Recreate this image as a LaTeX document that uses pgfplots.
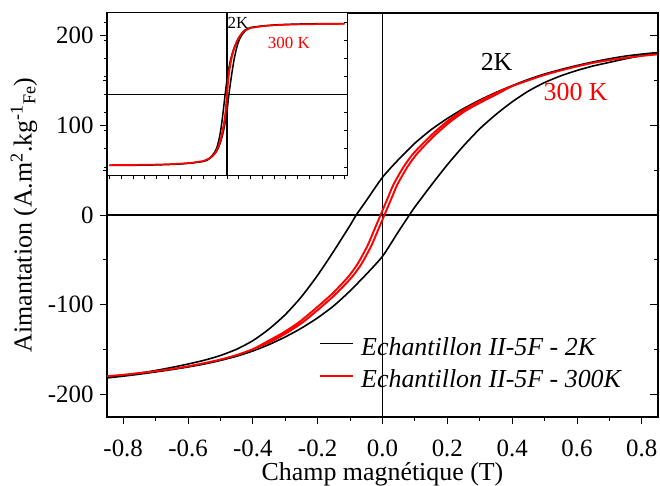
\documentclass[border=0pt]{standalone}
\usepackage{fontspec}
\setmainfont{Liberation Serif}
\usepackage{pgfplots}
\usepackage{pgfplotstable}
\pgfplotsset{compat=1.18}

% 2K loop: descending-field branch, then ascending-field branch
\pgfplotstableread{
x y
0.85 181
0.80 179.2
0.75 177
0.70 174
0.65 170.5
0.60 166.5
0.55 162
0.50 157
0.45 151
0.40 144
0.35 136.5
0.30 128
0.25 118.5
0.20 107.5
0.15 95
0.10 80
0.05 62
0.00 42
-0.05 16
-0.081 0
-0.10 -11.5
-0.15 -40
-0.20 -67
-0.25 -91
-0.30 -111
-0.35 -127
-0.40 -140
-0.45 -149.5
-0.50 -156.5
-0.55 -161.8
-0.60 -166
-0.65 -169.8
-0.70 -173.2
-0.75 -176.2
-0.80 -178.8
-0.85 -181
-0.85 -181.5
-0.80 -179.5
-0.75 -177.3
-0.70 -174.8
-0.65 -172.2
-0.60 -169.3
-0.55 -166
-0.50 -162
-0.45 -157.3
-0.40 -151.5
-0.35 -144.3
-0.30 -135.8
-0.25 -126
-0.20 -114.5
-0.15 -101
-0.10 -84.5
-0.05 -66
0.00 -46
0.05 -18
0.083 0
0.10 9
0.15 33
0.20 56
0.25 77
0.30 96
0.35 112
0.40 126
0.45 138
0.50 147.5
0.55 155
0.60 161
0.65 166
0.70 170
0.75 174
0.80 177.5
0.85 180.5
}\blackloop

% 300K loop
\pgfplotstableread{
x y
0.85 179
0.80 177.2
0.75 175
0.70 172.5
0.65 169.5
0.60 165.5
0.55 161
0.50 156
0.45 150
0.40 143.5
0.345 135
0.295 126
0.245 116
0.195 103
0.145 87
0.094 68
0.064 53
0.034 34
0.014 17
-0.006 0
-0.026 -17
-0.046 -34
-0.076 -54
-0.106 -69
-0.156 -88
-0.206 -104
-0.256 -119
-0.306 -131
-0.356 -141
-0.40 -149.5
-0.45 -156
-0.50 -161
-0.55 -165
-0.60 -168.5
-0.65 -171.5
-0.70 -174
-0.75 -176
-0.80 -178
-0.85 -179.5
-0.85 -179.5
-0.80 -178
-0.75 -176
-0.70 -174
-0.65 -171.5
-0.60 -168.5
-0.55 -165
-0.50 -161
-0.45 -156
-0.40 -149.5
-0.344 -141
-0.294 -131
-0.244 -119
-0.194 -104
-0.144 -88
-0.094 -69
-0.064 -54
-0.034 -34
-0.014 -17
0.006 0
0.026 17
0.046 34
0.076 53
0.106 68
0.156 87
0.206 103
0.256 116
0.306 126
0.355 135
0.40 143.5
0.45 150
0.50 156
0.55 161
0.60 165.5
0.65 169.5
0.70 172.5
0.75 175
0.80 177.2
0.85 179
}\redloop

% high-field tails (inset)
\pgfplotstableread{
x y
0.85 181
1.0 185
1.5 189.5
2.0 192
2.5 193.5
3.0 194.5
4.0 195.5
5.0 196
}\blackpos
\pgfplotstableread{
x y
-0.85 -181
-1.0 -185
-1.5 -189.5
-2.0 -192
-2.5 -193.5
-3.0 -194.5
-4.0 -195.5
-5.0 -196
}\blackneg
\pgfplotstableread{
x y
0.85 179
1.0 183.5
1.5 188.5
2.0 191
2.5 192.5
3.0 193.5
4.0 194.5
5.0 195
}\redpos
\pgfplotstableread{
x y
-0.85 -179.5
-1.0 -183.5
-1.5 -188.5
-2.0 -191
-2.5 -192.5
-3.0 -193.5
-4.0 -194.5
-5.0 -195
}\redneg

\begin{document}
\begin{tikzpicture}[x=1bp,y=1bp]
\useasboundingbox (0,0) rectangle (660,486);
% ---------------- main axis ----------------
\begin{axis}[
  at={(107bp,69bp)}, anchor=south west,
  scale only axis, width=551bp, height=404bp,
  xmin=-0.85, xmax=0.85, ymin=-225, ymax=225,
  xtick={-0.8,-0.6,-0.4,-0.2,0,0.2,0.4,0.6,0.8},
  xticklabels={-0.8,-0.6,-0.4,-0.2,0.0,0.2,0.4,0.6,0.8},
  ytick={-200,-100,0,100,200},
  yticklabels={-200,-100,0,100,200},
  minor x tick num=1, minor y tick num=1,
  xtick pos=bottom, ytick pos=left, tick align=outside,
  major tick length=7bp, minor tick length=4bp,
  tick style={black, line width=0.9bp},
  axis line style={line width=1.2bp},
  ticklabel style={font=\fontsize{25}{25}\selectfont},
  xticklabel style={yshift=-12bp},
  yticklabel style={xshift=-3bp},
  label style={font=\fontsize{26}{26}\selectfont},
  xlabel={Champ magnétique (T)},
  ylabel={Aimantation (A.m\textsuperscript{2}.kg\textsuperscript{-1}\textsubscript{Fe})},
  xlabel style={at={(axis description cs:0.5,-0.141)}, anchor=center},
  ylabel style={at={(axis description cs:-0.1506,0.5)}, anchor=center},
  legend style={at={(axis description cs:0.385,0.2054)}, anchor=north west,
    draw=none, fill=none, inner sep=0pt,
    font=\fontsize{26}{26}\selectfont\itshape,
    nodes={inner sep=3bp}, row sep=7bp,
    /tikz/every odd column/.style={column sep=4bp}},
  legend cell align=left,
  legend image code/.code={\draw[#1] (0bp,0.35em) -- (33bp,0.35em);},
]
\addplot[black, line width=1.5bp, forget plot] coordinates {(0,-225) (0,225)};
\addplot[black, line width=1.4bp, forget plot] coordinates {(-0.85,0) (0.85,0)};
\addplot[black, line width=1.6bp, smooth, tension=0.4] table {\blackloop};
\addlegendentry{Echantillon II-5F - 2K}
\addplot[red, line width=1.9bp, smooth, tension=0.4] table {\redloop};
\addlegendentry{Echantillon II-5F - 300K}
\node[font=\fontsize{26}{26}\selectfont, black] at (axis cs:0.352,171) {2K};
\node[font=\fontsize{26}{26}\selectfont, red] at (axis cs:0.596,136.5) {300 K};
\end{axis}
% right-hand inward ticks of main axis
\begin{axis}[
  at={(107bp,69bp)}, anchor=south west,
  scale only axis, width=551bp, height=404bp,
  xmin=-0.85, xmax=0.85, ymin=-225, ymax=225,
  hide x axis, axis y line*=right,
  ytick={-200,-100,0,100,200}, yticklabels={},
  minor y tick num=1, tick align=inside,
  major tick length=8bp, minor tick length=4bp,
  tick style={black, line width=0.9bp},
  axis line style={line width=1.2bp},
]
\end{axis}
% ---------------- inset ----------------
\begin{axis}[
  at={(107bp,310bp)}, anchor=south west,
  scale only axis, width=240bp, height=163bp,
  xmin=-5.1, xmax=5.1, ymin=-225, ymax=225,
  axis background/.style={fill=white},
  xtick={-5,-4.5,...,5.01}, ytick={-200,-150,...,200},
  xticklabels={}, yticklabels={},
  xtick pos=bottom, ytick pos=left, tick align=outside,
  major tick length=3.5bp,
  tick style={black, line width=0.7bp},
  axis line style={line width=1bp},
]
\addplot[black, line width=1.2bp] coordinates {(0,-225) (0,225)};
\addplot[black, line width=1.1bp] coordinates {(-5.1,0) (5.1,0)};
\addplot[black, line width=1.5bp] table {\blackloop};
\addplot[black, line width=1.5bp] table {\blackpos};
\addplot[black, line width=1.5bp] table {\blackneg};
\addplot[red, line width=1.7bp] table {\redloop};
\addplot[red, line width=1.7bp] table {\redpos};
\addplot[red, line width=1.7bp] table {\redneg};
\node[font=\fontsize{17}{17}\selectfont, black] at (axis cs:0.47,197) {2K};
\node[font=\fontsize{17}{17}\selectfont, red] at (axis cs:2.63,142) {300 K};
\end{axis}
\begin{axis}[
  at={(107bp,310bp)}, anchor=south west,
  scale only axis, width=240bp, height=163bp,
  xmin=-5.1, xmax=5.1, ymin=-225, ymax=225,
  hide x axis, axis y line*=right,
  ytick={-200,-150,...,200}, yticklabels={},
  tick align=inside, major tick length=3.5bp,
  tick style={black, line width=0.7bp},
  axis line style={line width=1bp},
]
\end{axis}
\end{tikzpicture}
\end{document}
